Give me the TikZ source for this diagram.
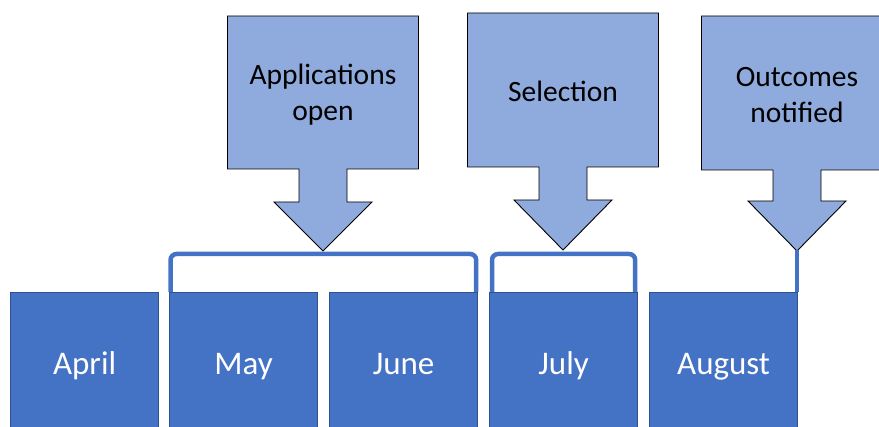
\documentclass[tikz,border=0pt]{standalone}
\usepackage{fontspec}
\setmainfont{Carlito}

\definecolor{monthblue}{HTML}{4472C4}
\definecolor{monthedge}{HTML}{2F528F}
\definecolor{calloutblue}{HTML}{8FAADC}

\tikzset{
  month/.style={draw=monthedge, line width=1.2pt, fill=monthblue, text=white,
    minimum width=148pt, minimum height=144pt, inner sep=0pt, anchor=north west,
    text height=24pt, text depth=4pt, font=\fontsize{33}{40}\selectfont},
  callout/.style={draw=black, line width=0.9pt, fill=calloutblue},
  calloutlabel/.style={align=center, text=black, font=\fontsize{29.5}{36}\selectfont},
  bracket/.style={draw=monthblue, line width=4.5pt, rounded corners=6pt},
}

% down callout: centre x, box top, box bottom, stem bottom, tip
\newcommand{\downcallout}[5]{%
  \draw[callout] (#1-95.5,#2) -- (#1+95.5,#2) -- (#1+95.5,#3) -- (#1+24,#3)
    -- (#1+24,#4) -- (#1+49,#4) -- (#1,#5) -- (#1-49,#4) -- (#1-24,#4)
    -- (#1-24,#3) -- (#1-95.5,#3) -- cycle;}

\begin{document}
\begin{tikzpicture}[x=1pt,y=-1pt]
\useasboundingbox (0,0) rectangle (879,427);
\clip (0,0) rectangle (879,427);

% months
\node[month] (april)  at (10,292)  {April};
\node[month] (may)    at (169,292) {May};
\node[month] (june)   at (329,292) {June};
\node[month] (july)   at (489,292) {July};
\node[month] (august) at (649,292) {August};

% callouts
\downcallout{323}{16}{169}{202}{251}
\node[calloutlabel] (apps) at (323,95) {Applications\\open};
\coordinate (appsbar) at (323,254);

\downcallout{563}{13}{167}{200}{250}
\node[calloutlabel] (sel) at (563,91) {Selection};
\coordinate (selbar) at (563,254);

\downcallout{797}{16}{170}{201}{251}
\node[calloutlabel] (outc) at (797,95) {Outcomes\\notified};
\coordinate (outctip) at (797,250);

% brackets
\draw[bracket] ([xshift=1.5pt]may.north west) |- (appsbar) -| ([xshift=-2pt]june.north east);
\draw[bracket] ([xshift=3pt]july.north west) |- (selbar) -| ([xshift=-3pt]july.north east);
\draw[bracket, rounded corners=0pt] (outctip) -- (outctip |- august.north);
\end{tikzpicture}
\end{document}
